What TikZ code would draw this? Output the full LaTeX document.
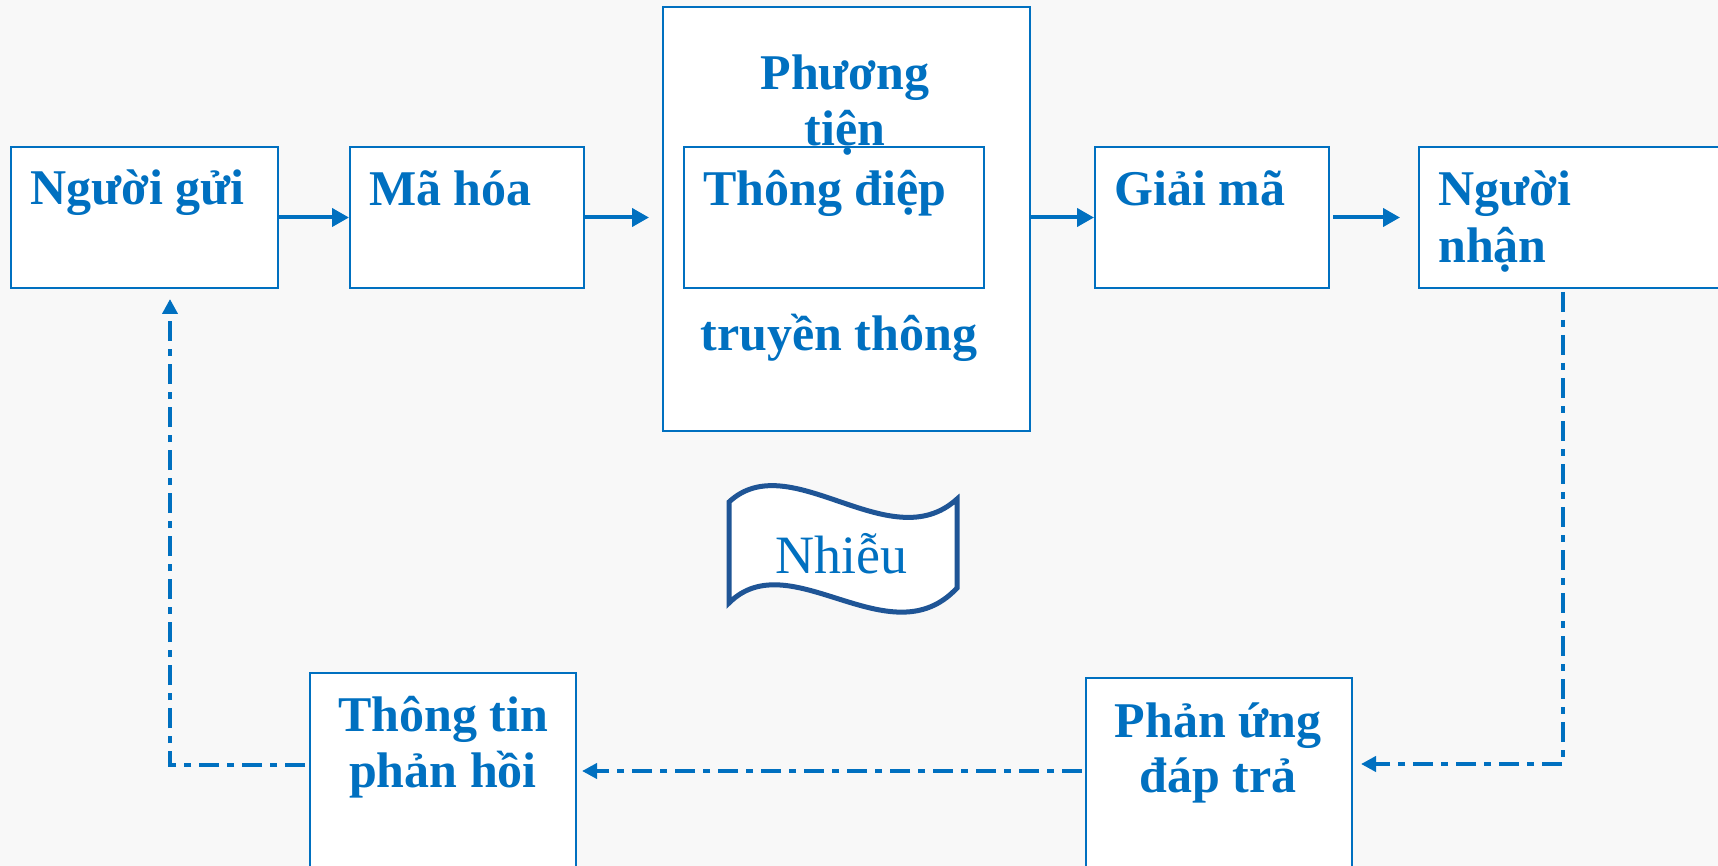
\documentclass[tikz,border=0pt]{standalone}
\usepackage{fontspec}
\setmainfont{Liberation Serif}
\usetikzlibrary{arrows.meta}
\definecolor{tblue}{HTML}{0070C0}
\definecolor{wblue}{HTML}{1F5596}
\definecolor{bg}{HTML}{F8F8F8}
\tikzset{
  box/.style={draw=tblue, line width=2pt, fill=white, inner sep=0pt},
  lbl/.style={text=tblue, font=\fontsize{50}{56}\selectfont\bfseries, inner sep=0pt},
  flow/.style={draw=tblue, line width=4pt, -{Triangle[length=17pt,width=18pt]}},
  fb/.style={draw=tblue, line width=4pt, dash pattern=on 20pt off 8pt on 7pt off 8pt, -{Triangle[length=15pt,width=15pt]}},
}
\begin{document}
\begin{tikzpicture}[x=1pt,y=-1pt]
\useasboundingbox (0,0) rectangle (1718,866);
\clip (0,0) rectangle (1718,866);
\fill[bg] (0,0) rectangle (1718,866);
% boxes
\node[box, minimum width=267pt, minimum height=141pt] (sender) at (144.5,217.5) {};
\node[box, minimum width=234pt, minimum height=141pt] (encode) at (467,217.5) {};
\node[box, minimum width=367pt, minimum height=424pt] (medium) at (846.5,219) {};
\node[box, minimum width=300pt, minimum height=141pt] (msg) at (834,217.5) {};
\node[box, minimum width=234pt, minimum height=141pt] (decode) at (1212,217.5) {};
\node[box, minimum width=321pt, minimum height=141pt] (receiver) at (1579.5,217.5) {};
\node[box, minimum width=266pt, minimum height=217pt] (info) at (443,781.5) {};
\node[box, minimum width=266pt, minimum height=212pt] (react) at (1219,784) {};
% texts
\node[lbl, anchor=base west] (sendert) at (30,205) {Người gửi};
\node[lbl, anchor=base west] (encodet) at (369,206) {Mã hóa};
\node[lbl, anchor=base] (mediumt1) at (845,90) {Phương};
\node[lbl, anchor=base] (mediumt2) at (845,146) {tiện};
\node[lbl, anchor=base west] (msgt) at (703,206) {Thông điệp};
\node[lbl, anchor=base] (mediumt3) at (839,351) {truyền thông};
\node[lbl, anchor=base west] (decodet) at (1114,206) {Giải mã};
\node[lbl, anchor=base west] (recvt1) at (1438,206) {Người};
\node[lbl, anchor=base west] (recvt2) at (1438,263) {nhận};
\node[lbl, anchor=base] (infot1) at (443,731) {Thông tin};
\node[lbl, anchor=base] (infot2) at (443,787) {phản hồi};
\node[lbl, anchor=base] (reactt1) at (1218,737) {Phản ứng};
\node[lbl, anchor=base] (reactt2) at (1218,792) {đáp trả};
% noise wave
\draw[wblue, line width=5pt, fill=white, line join=miter]
  (729,502) .. controls (790,445) and (890,560) .. (957,499)
  -- (957,588) .. controls (890,660) and (790,542) .. (729,603) -- cycle;
\node[text=tblue, font=\fontsize{54}{60}\selectfont, inner sep=0pt, anchor=base] (noiset) at (841,573) {Nhiễu};
% main flow
\draw[flow] (sender.east) -- (encode.west);
\draw[flow, shorten >=13pt] (encode.east) -- (encode.east -| medium.west);
\draw[flow] (medium.east |- decode.west) -- (decode.west);
\draw[flow, shorten >=18pt, shorten <=3pt] (decode.east) -- (receiver.west);
% feedback
\coordinate (rx) at (1563,292);
\draw[fb, shorten >=8pt] (rx) |- ([yshift=20pt]react.east);
\draw[fb, shorten >=5pt, shorten <=3pt] ([yshift=13pt]react.west) -- ([yshift=13pt]react.west -| info.east);
\draw[fb, shorten >=10pt, shorten <=4pt] ([yshift=16.5pt]info.west) -| ([xshift=25.5pt]sender.south);
\end{tikzpicture}
\end{document}
